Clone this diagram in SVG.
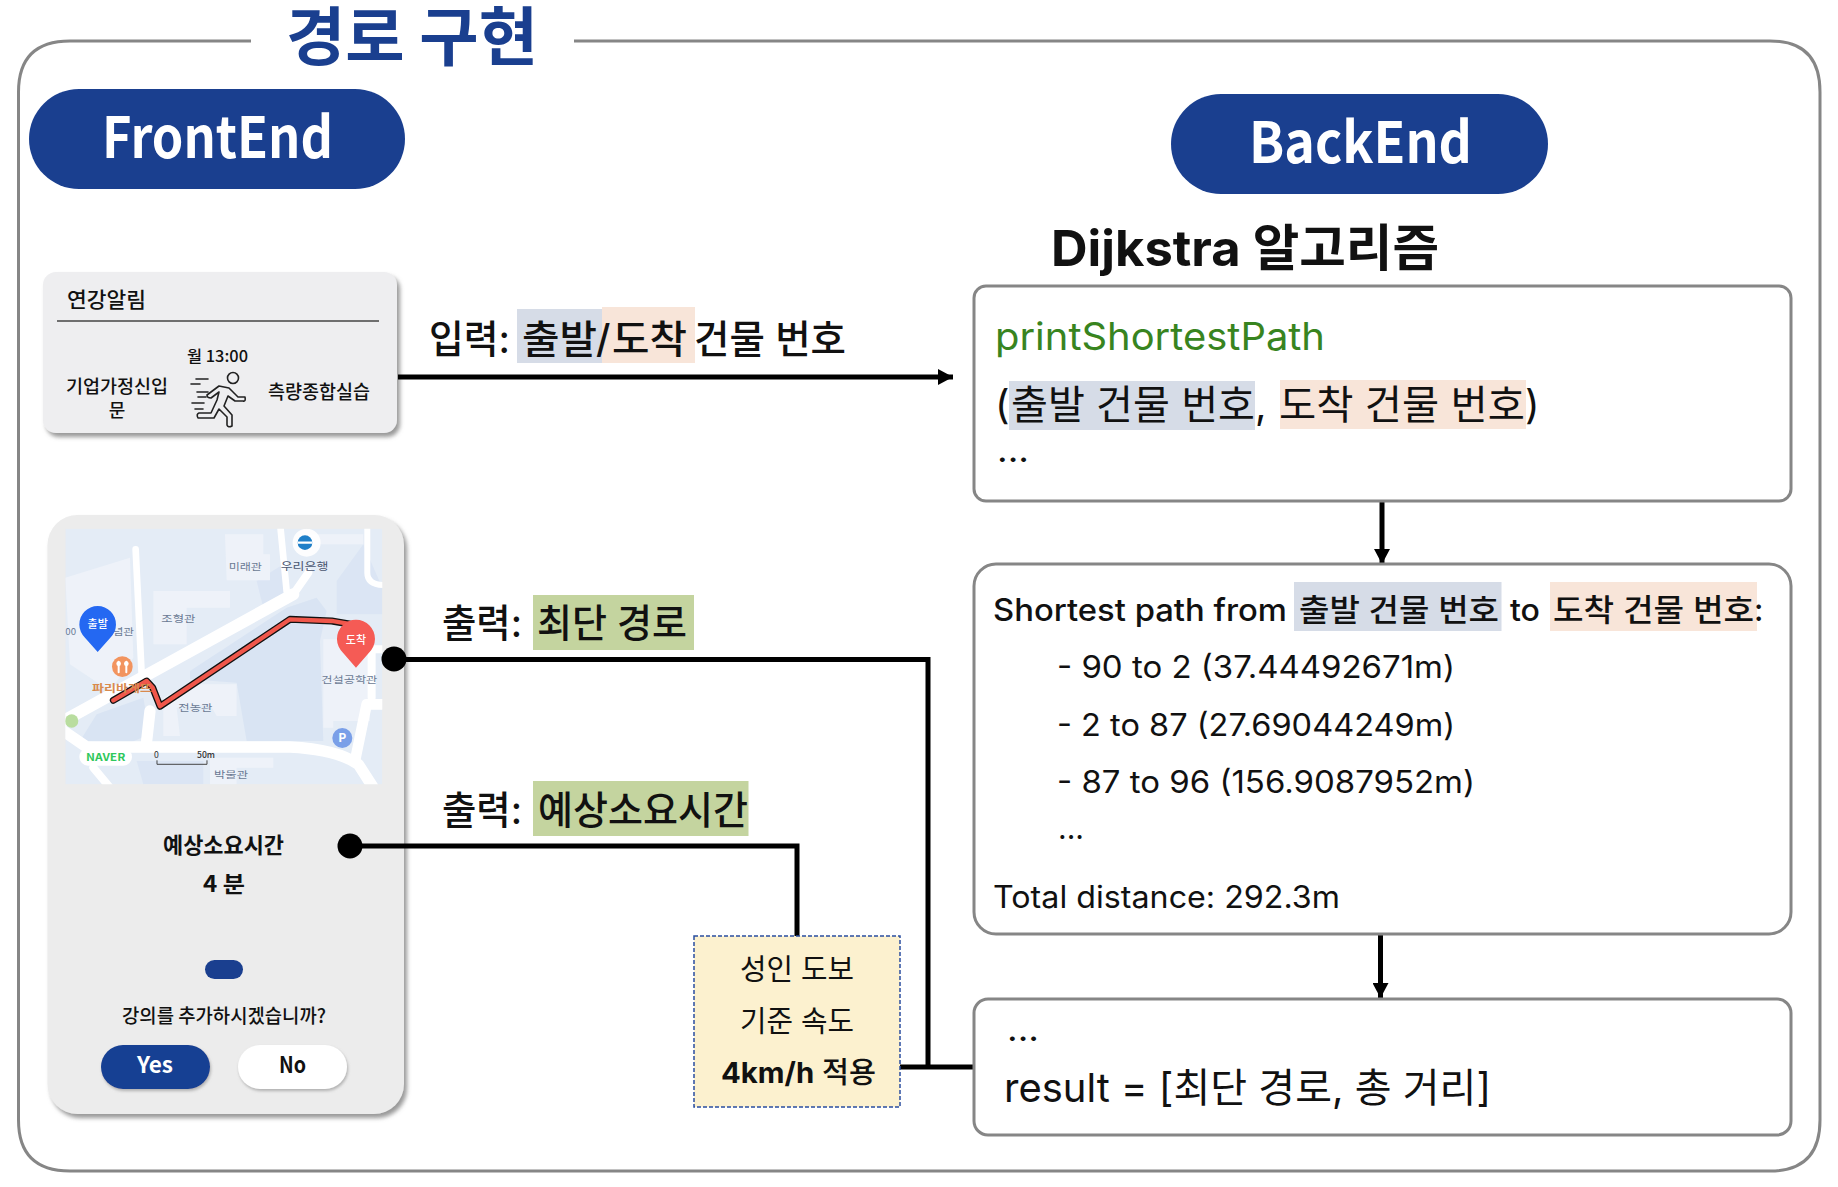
<svg xmlns="http://www.w3.org/2000/svg" width="1838" height="1187" viewBox="0 0 1838 1187">
<style>
text{font-family:"Inter","Noto Sans CJK KR","Noto Sans",sans-serif;fill:#111}
.k{font-family:"Noto Sans CJK KR","Noto Sans",sans-serif}
.m{font-weight:500}.b{font-weight:700}
.box{fill:#fff;stroke:#868686;stroke-width:3}
.pill{fill:#1a3f8f}
.conn{fill:none;stroke:#000;stroke-width:5}
.lbl{font-size:39px}
.cd{font-size:40px}
.out{font-size:31px}
.mp{font-size:29px;fill:#6b7a94}
</style>
<defs>
<filter id="sh" x="-5%" y="-5%" width="112%" height="112%"><feDropShadow dx="3" dy="4" stdDeviation="2" flood-color="#777" flood-opacity=".75"/></filter>
<filter id="sh2" x="-10%" y="-10%" width="120%" height="130%"><feDropShadow dx="1" dy="2" stdDeviation="1.5" flood-color="#888" flood-opacity=".6"/></filter>
<marker id="ah" markerUnits="userSpaceOnUse" markerWidth="16" markerHeight="16" refX="15" refY="8" orient="auto"><path d="M0 0L15 8L0 16z" fill="#000"/></marker>
<clipPath id="mc"><rect x="106" y="83" width="951" height="767"/></clipPath>
</defs>
<rect width="1838" height="1187" fill="#fff"/>
<g id="frame"><path d="M251 41H70Q18.500 41 18.500 92V1120Q18.500 1171 70 1171H1770Q1820 1171 1820 1120V92Q1820 41 1770 41H574" fill="none" stroke="#868686" stroke-width="3"/></g>
<g id="title"><text x="286" y="60" font-size="64" class="b k" style="fill:#1a3f8f" textLength="252" lengthAdjust="spacingAndGlyphs">경로 구현</text></g>
<g id="frontend"><rect x="29" y="89" width="376" height="100" rx="50" class="pill"/><text x="102" y="158" font-size="57" class="b k" style="fill:#fff" textLength="231" lengthAdjust="spacingAndGlyphs">FrontEnd</text></g>
<g id="backend"><rect x="1171" y="94" width="377" height="100" rx="50" class="pill"/><text x="1249" y="163" font-size="57" class="b k" style="fill:#fff" textLength="223" lengthAdjust="spacingAndGlyphs">BackEnd</text></g>
<g transform="translate(0 1)">
<g id="notice">
<rect x="43" y="271" width="354" height="161" rx="13" fill="#eeeef0" filter="url(#sh)"/>
<text x="67" y="306" font-size="21" class="m k" textLength="79" lengthAdjust="spacingAndGlyphs">연강알림</text>
<line x1="57" y1="320" x2="379" y2="320" stroke="#444" stroke-width="1.500"/>
<text x="187" y="361" font-size="16" class="m k" textLength="61" lengthAdjust="spacingAndGlyphs">월 13:00</text>
<text x="66" y="392" font-size="18" class="m k" textLength="102" lengthAdjust="spacingAndGlyphs">기업가정신입</text>
<text x="117" y="416" font-size="18" class="m k" text-anchor="middle">문</text>
<text x="268" y="398" font-size="19" class="m k" textLength="102" lengthAdjust="spacingAndGlyphs">측량종합실습</text>
<g fill="none" stroke="#222" stroke-width="1.600" stroke-linecap="round" stroke-linejoin="round">
<circle cx="233" cy="377" r="5.500"/>
<path d="M207 394L219 385L229 387L238 396L245 396Q246 401 243 400L235 400L228 395L224 405L232 414V425Q228 427 227 424V416L219 408L214 417H198Q196 413 199 412L211 412L217 399L219 391L211 397Q207 397 207 394"/>
<path d="M191 383H200M196 378H208M197 391H208M192 402H204M198 396H206M195 408H203"/>
</g>
</g>
<g id="phone">
<rect x="47.500" y="514" width="356.500" height="599" rx="30" fill="#ececec" filter="url(#sh)"/>
<g id="map" transform="translate(30 500) scale(.3333)">
<g clip-path="url(#mc)">
<rect x="106" y="83" width="951" height="767" fill="#e4ecf6"/>
<path d="M480 510L770 320L860 290L890 330L870 420L880 720L650 720L620 545L480 535Z" fill="#d9e4f3"/>
<path d="M150 720L200 640L340 590L360 700L300 725Z" fill="#d9e4f3"/>
<path d="M680 240L760 190L760 280L700 320ZM920 240L1000 130L1057 260V340H920ZM320 780H520V850H340Z" fill="#dbe5f4"/>
<path d="M585 100H700V160H720V238H590ZM370 270H600V320H470V430H370ZM106 230L300 170L310 470L240 570L120 490ZM880 415H1020V660H910V680H880ZM400 590L480 550H620V645H560L540 610L440 620L450 705H400ZM540 770H730V800H620V850H540ZM840 100H1000V130H840Z" fill="#eef2f9"/>
<g fill="none" stroke="#fff" stroke-linecap="round" stroke-linejoin="round">
<path d="M100 660L790 280" stroke-width="36"/>
<path d="M317 145L335 520M752 85L770 270" stroke-width="20"/>
<path d="M790 280L835 215" stroke-width="24"/>
<path d="M100 690L170 738H780Q920 745 985 790L1030 860" stroke-width="34"/>
<path d="M360 630L350 720" stroke-width="34"/>
<path d="M1057 610H1010L975 780" stroke-width="32"/>
<path d="M1057 445H1025V590" stroke-width="24"/>
<path d="M1012 85V215Q1012 250 1060 252" stroke-width="18"/>
<path d="M190 800L240 860" stroke-width="24"/>
</g>
<circle cx="125" cy="660" r="20" fill="#b9dd9f"/>
<g fill="none" stroke-linejoin="round" stroke-linecap="round"><path d="M250 598L350 540L368 560L390 616L780 355L905 360L975 372" stroke="#111" stroke-width="21"/><path d="M250 598L350 540L368 560L390 616L780 355L905 360L975 372" stroke="#f0574b" stroke-width="13"/></g>
<circle cx="277" cy="497" r="31" fill="#f2945f"/>
<path d="M266 482V514M289 482V514" stroke="#fff" stroke-width="6" stroke-linecap="round"/><circle cx="266" cy="488" r="7" fill="#fff"/><circle cx="289" cy="488" r="7" fill="#fff"/>
<text x="186" y="574" font-size="32" style="fill:#d98a4e" class="b k" textLength="180" lengthAdjust="spacingAndGlyphs">파리바게뜨</text>
<text x="596" y="208" class="mp k" textLength="100" lengthAdjust="spacingAndGlyphs">미래관</text>
<text x="752" y="206" font-size="31" class="k" style="fill:#4a5670" textLength="143" lengthAdjust="spacingAndGlyphs">우리은행</text>
<text x="394" y="364" class="mp k" textLength="102" lengthAdjust="spacingAndGlyphs">조형관</text>
<text x="445" y="630" class="mp k" textLength="102" lengthAdjust="spacingAndGlyphs">전농관</text>
<text x="874" y="545" class="mp k" textLength="168" lengthAdjust="spacingAndGlyphs">건설공학관</text>
<text x="552" y="832" class="mp k" textLength="102" lengthAdjust="spacingAndGlyphs">박물관</text>
<text x="106" y="402" class="mp k">00</text>
<text x="248" y="402" class="mp k" textLength="64" lengthAdjust="spacingAndGlyphs">념관</text>
<circle cx="830" cy="125" r="42" fill="#fff" opacity=".9"/>
<circle cx="825" cy="125" r="22" fill="#1f7fc8"/><path d="M803 125H847" stroke="#fff" stroke-width="7"/>
<path d="M203 453L165 410A55 55 0 1 1 241 410Z" fill="#2468f2"/>
<text x="203" y="380" font-size="33" text-anchor="middle" class="m k" style="fill:#fff">출발</text>
<path d="M978 500L939 455A57 57 0 1 1 1017 455Z" fill="#f55b55"/>
<text x="978" y="430" font-size="33" text-anchor="middle" class="m k" style="fill:#fff">도착</text>
<circle cx="937" cy="711" r="30" fill="#7a9fe8"/><text x="937" y="724" font-size="36" text-anchor="middle" class="b k" style="fill:#fff">P</text>
<rect x="148" y="742" width="158" height="52" rx="26" fill="#fff"/>
<text x="168" y="781" font-size="30" class="b k" style="fill:#2fc85c" textLength="118" lengthAdjust="spacingAndGlyphs">NAVER</text>
<text x="372" y="770" font-size="26" class="k" style="fill:#333">0</text><text x="501" y="770" font-size="26" class="m k" style="fill:#333">50m</text>
<path d="M381 778V790H531V778" fill="none" stroke="#444" stroke-width="3"/>
</g></g>
<text x="163" y="852" font-size="22" class="b k" textLength="121" lengthAdjust="spacingAndGlyphs">예상소요시간</text>
<text x="203" y="891" font-size="22" class="b k" textLength="42" lengthAdjust="spacingAndGlyphs">4 분</text>
<rect x="205" y="959" width="38" height="19" rx="9.500" class="pill"/>
<text x="122" y="1022" font-size="19.500" class="m k" textLength="204" lengthAdjust="spacingAndGlyphs">강의를 추가하시겠습니까?</text>
<g id="yes"><rect x="101" y="1044" width="109" height="44" rx="22" fill="#134093" filter="url(#sh2)"/><text x="137" y="1072" font-size="22" class="b k" style="fill:#fff" textLength="36" lengthAdjust="spacingAndGlyphs">Yes</text></g>
<g id="no"><rect x="238" y="1044" width="109" height="44" rx="22" fill="#fff" filter="url(#sh2)"/><text x="279" y="1072" font-size="22" class="b k" textLength="27" lengthAdjust="spacingAndGlyphs">No</text></g>
</g>
<g id="connectors">
<path class="conn" d="M398 376H953" marker-end="url(#ah)"/>
<path class="conn" d="M394 658.500H928V1066"/>
<path class="conn" d="M350 845H797V935"/>
<path class="conn" d="M900 1066H974"/>
<path class="conn" d="M1382 500V563" marker-end="url(#ah)"/>
<path class="conn" d="M1380.500 933V997" marker-end="url(#ah)"/>
<circle cx="394" cy="658" r="12.500"/>
<circle cx="350" cy="845" r="12.500"/>
</g>
<g id="input-label">
<rect x="517" y="308" width="85" height="54" fill="#d6dce7"/><rect x="602" y="306" width="93" height="56" fill="#f8e5d9"/>
<text x="429" y="352" class="lbl m" textLength="81" lengthAdjust="spacingAndGlyphs">입력:</text>
<text x="522" y="352" class="lbl m" textLength="75" lengthAdjust="spacingAndGlyphs">출발</text>
<text x="596" y="352" class="lbl m">/</text>
<text x="612" y="352" class="lbl m" textLength="75" lengthAdjust="spacingAndGlyphs">도착</text>
<text x="694" y="352" class="lbl m" textLength="152" lengthAdjust="spacingAndGlyphs">건물 번호</text>
</g>
<g id="output-route">
<rect x="533" y="594" width="161" height="55" fill="#c4d49f"/>
<text x="442" y="636" class="lbl m" textLength="80" lengthAdjust="spacingAndGlyphs">출력:</text>
<text x="537" y="636" class="lbl m" textLength="150" lengthAdjust="spacingAndGlyphs">최단 경로</text>
</g>
<g id="output-time">
<rect x="533" y="780" width="215.500" height="55" fill="#c4d49f"/>
<text x="442" y="823" class="lbl m" textLength="80" lengthAdjust="spacingAndGlyphs">출력:</text>
<text x="538" y="823" class="lbl m" textLength="210" lengthAdjust="spacingAndGlyphs">예상소요시간</text>
</g>
<g id="speed-note">
<rect x="694" y="935" width="206" height="171" fill="#fcf1cf" stroke="#2a4ea0" stroke-width="1.500" stroke-dasharray="4 2"/>
<text x="740" y="979" font-size="29" textLength="114" lengthAdjust="spacingAndGlyphs">성인 도보</text>
<text x="740" y="1031" font-size="29" textLength="114" lengthAdjust="spacingAndGlyphs">기준 속도</text>
<text x="721" y="1082" font-size="29" class="m" textLength="155" lengthAdjust="spacingAndGlyphs"><tspan class="b">4km/h</tspan> 적용</text>
</g>
<g id="dijkstra-title"><text x="1051" y="265" font-size="50" class="b" textLength="388" lengthAdjust="spacingAndGlyphs">Dijkstra 알고리즘</text></g>
<g id="call-box">
<rect x="974" y="285" width="817" height="215" rx="12" class="box"/>
<rect x="1009" y="380" width="246" height="49" fill="#d6dce7"/><rect x="1280" y="379" width="246" height="49" fill="#f8e5d9"/>
<text x="995" y="349" font-size="38" style="fill:#38841f" textLength="330" lengthAdjust="spacingAndGlyphs">printShortestPath</text>
<text x="995" y="418" class="cd">(</text>
<text x="1011" y="418" class="cd" textLength="244" lengthAdjust="spacingAndGlyphs">출발 건물 번호</text>
<text x="1255" y="418" class="cd">,</text>
<text x="1279" y="418" class="cd" textLength="246" lengthAdjust="spacingAndGlyphs">도착 건물 번호</text>
<text x="1525" y="418" class="cd">)</text>
<text x="997" y="461" font-size="34" textLength="32" lengthAdjust="spacingAndGlyphs">...</text>
</g>
<g id="result-log">
<rect x="974" y="563" width="817" height="370" rx="22" class="box"/>
<rect x="1294" y="581" width="207.500" height="49" fill="#d6dce7"/><rect x="1550" y="581" width="207" height="49" fill="#f8e5d9"/>
<text x="993" y="620" class="out m" textLength="294" lengthAdjust="spacingAndGlyphs">Shortest path from</text>
<text x="1299" y="620" class="out m" textLength="200" lengthAdjust="spacingAndGlyphs">출발 건물 번호</text>
<text x="1510" y="620" class="out m" textLength="30" lengthAdjust="spacingAndGlyphs">to</text>
<text x="1553" y="620" class="out m" textLength="201" lengthAdjust="spacingAndGlyphs">도착 건물 번호</text>
<text x="1754" y="620" class="out m">:</text>
<text x="1057" y="677" class="out" textLength="398" lengthAdjust="spacingAndGlyphs">- 90 to 2 (37.44492671m)</text>
<text x="1057" y="735" class="out" textLength="398" lengthAdjust="spacingAndGlyphs">- 2 to 87 (27.69044249m)</text>
<text x="1057" y="792" class="out" textLength="418" lengthAdjust="spacingAndGlyphs">- 87 to 96 (156.9087952m)</text>
<text x="1058" y="838" class="out" textLength="26" lengthAdjust="spacingAndGlyphs">...</text>
<text x="993" y="907" class="out" textLength="347" lengthAdjust="spacingAndGlyphs">Total distance: 292.3m</text>
</g>
<g id="result-box">
<rect x="974" y="998" width="817" height="136" rx="14" class="box"/>
<text x="1007" y="1040" font-size="34" textLength="32" lengthAdjust="spacingAndGlyphs">...</text>
<text x="1004" y="1101" font-size="40" textLength="487" lengthAdjust="spacingAndGlyphs">result = [최단 경로, 총 거리]</text>
</g>
</g>
</svg>
